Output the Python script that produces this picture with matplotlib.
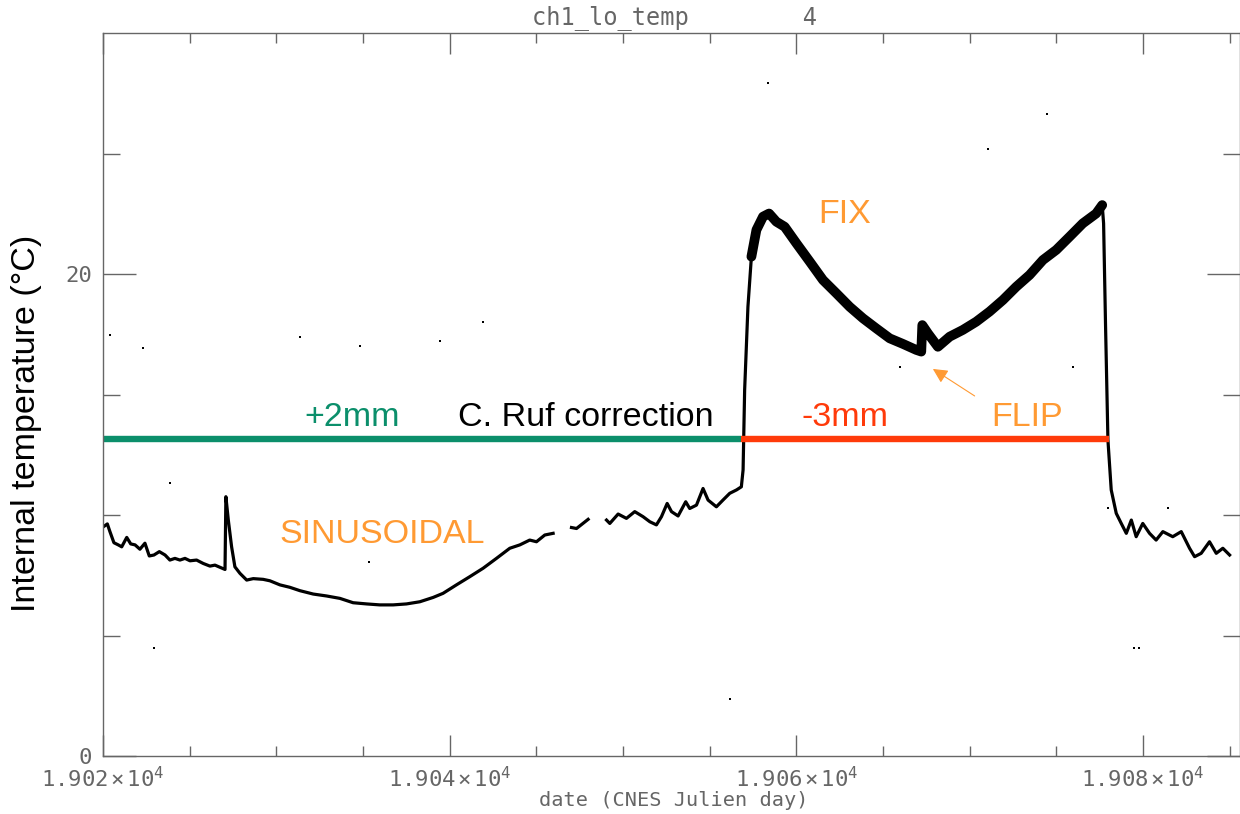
import numpy as np
import matplotlib
matplotlib.use("Agg")
import matplotlib.pyplot as plt
from matplotlib.ticker import FuncFormatter, FixedLocator

plt.rcParams['mathtext.fontset'] = 'custom'
plt.rcParams['mathtext.rm'] = 'DejaVu Sans Mono'
plt.rcParams['mathtext.it'] = 'DejaVu Sans Mono'

# ch1_lo_temp, CNES Julian day vs internal temperature (deg C); NaN = data gap
days = [19020.02, 19020.25, 19020.40, 19020.63, 19020.88, 19021.08, 19021.37, 19021.60,
        19021.85, 19022.13, 19022.42, 19022.67, 19022.94, 19023.25, 19023.58, 19023.86,
        19024.15, 19024.44, 19024.73, 19025.02, 19025.40, 19025.78, 19026.17, 19026.46,
        19026.75, 19027.04, 19027.09, 19027.23, 19027.42, 19027.61, 19027.90, 19028.29,
        19028.67, 19029.24, 19029.63, 19030.21, 19030.78, 19031.36, 19032.13, 19032.90,
        19033.67, 19034.43, 19035.21, 19035.97, 19036.74, 19037.51, 19038.28, 19039.05,
        19039.62, 19040.39, 19041.16, 19041.93, 19042.70, 19043.47, 19044.05, 19044.62,
        19045.01, 19045.49, 19045.97, 19046.50, 19047.03, 19047.32, 19047.99, 19048.50,
        19049.05, 19049.24, 19049.72, 19050.20, 19050.68, 19051.16, 19051.55, 19051.93,
        19052.22, 19052.55, 19052.80, 19053.18, 19053.62, 19053.85, 19054.24, 19054.62,
        19054.91, 19055.39, 19055.77, 19056.16, 19056.55, 19056.83, 19056.93, 19057.02,
        19057.21, 19057.41]
temps = [9.51, 9.63, 9.31, 8.85, 8.76, 8.68, 9.07, 8.80,
         8.76, 8.58, 8.83, 8.30, 8.34, 8.48, 8.34, 8.13,
         8.20, 8.13, 8.20, 8.10, 8.13, 7.99, 7.88, 7.92,
         7.83, 7.74, 10.76, 9.79, 8.68, 7.85, 7.58, 7.30,
         7.36, 7.33, 7.27, 7.10, 7.00, 6.86, 6.72, 6.64,
         6.54, 6.36, 6.31, 6.27, 6.27, 6.31, 6.40, 6.58,
         6.75, 7.10, 7.44, 7.79, 8.20, 8.62, 8.76, 8.96,
         8.89, 9.17, 9.24, np.nan, 9.48, 9.44, 9.82, np.nan,
         9.79, 9.65, 10.04, 9.86, 10.14, 9.93, 9.72, 9.59,
         9.93, 10.48, 10.14, 9.96, 10.55, 10.27, 10.41, 11.10,
         10.62, 10.34, 10.62, 10.90, 11.04, 11.17, 11.87, 15.19,
         18.64, 20.72]

# the FIX period, drawn as a thick band (daily oscillation)
fix_days = [19057.41, 19057.70, 19058.08, 19058.43, 19058.85, 19059.33, 19060.01, 19060.78,
            19061.54, 19062.31, 19063.08, 19063.85, 19064.62, 19065.39, 19066.15, 19066.92,
            19067.21, 19067.27, 19067.60, 19068.17, 19068.85, 19069.61, 19070.38, 19071.15,
            19071.92, 19072.69, 19073.46, 19074.23, 19075.00, 19075.77, 19076.53, 19077.30,
            19077.65]
fix_temps = [20.72, 21.83, 22.38, 22.51, 22.17, 21.96, 21.27, 20.51,
             19.75, 19.20, 18.64, 18.16, 17.74, 17.33, 17.10, 16.85,
             16.78, 17.88, 17.53, 16.98, 17.40, 17.68, 18.02, 18.44,
             18.92, 19.47, 19.96, 20.58, 21.00, 21.55, 22.10, 22.51,
             22.86]

end_days = [19077.65, 19077.73, 19077.84, 19077.98, 19078.17, 19078.46, 19078.75, 19079.04,
            19079.33, 19079.61, 19079.99, 19080.38, 19080.76, 19081.15, 19081.72, 19082.21,
            19082.69, 19082.98, 19083.36, 19083.84, 19084.23, 19084.61, 19085.00]
end_temps = [22.86, 22.10, 17.95, 13.11, 11.04, 10.07, 9.65, 9.24,
             9.79, 9.10, 9.65, 9.24, 8.96, 9.31, 9.10, 9.31,
             8.62, 8.27, 8.41, 8.89, 8.41, 8.62, 8.34]

# isolated outlier samples
out_days = [19058.35, 19074.44, 19071.04, 19020.40, 19022.30, 19031.36, 19034.82, 19041.91,
            19039.43, 19023.86, 19022.94, 19035.36, 19056.20, 19065.96, 19075.96, 19078.00,
            19081.46, 19079.50, 19079.80]
out_temps = [27.93, 26.64, 25.19, 17.47, 16.93, 17.40, 17.01, 17.99,
             17.23, 11.32, 4.47, 8.04, 2.35, 16.15, 16.14, 10.30,
             10.29, 4.47, 4.47]

# correction periods
plus_start, plus_end = 19020.0, 19056.83
minus_start, minus_end = 19056.83, 19078.03
corr_level = 13.15

green = '#0b8f6b'
red = '#ff3a0a'
orange = '#ff9a33'
gray = '#666666'

fig = plt.figure(figsize=(12.4, 8.14), dpi=100)
ax = fig.add_axes([103 / 1240, 58 / 814, 1137 / 1240, 723 / 814])
ax.set_facecolor('none')

ax.plot(days, temps, color='black', lw=2.3)
ax.plot(fix_days, fix_temps, color='black', lw=7, solid_capstyle='round',
        solid_joinstyle='round')
ax.plot(end_days, end_temps, color='black', lw=2.3)
ax.plot(out_days, out_temps, 's', color='black', ms=2, mew=0)

ax.plot([plus_start, plus_end], [corr_level, corr_level], color=green, lw=4.6,
        solid_capstyle='butt')
ax.plot([minus_start, minus_end], [corr_level, corr_level], color=red, lw=4.6,
        solid_capstyle='butt')

fs = 24.5
ax.text(19034.36, 13.69, '+2mm', color=green, fontsize=fs, ha='center', va='baseline',
        family='Liberation Sans')
ax.text(19040.49, 13.69, 'C. Ruf correction', color='black', fontsize=fs, ha='left',
        va='baseline', family='Liberation Sans')
ax.text(19060.29, 13.69, '-3mm', color=red, fontsize=fs, ha='left', va='baseline',
        family='Liberation Sans')
ax.text(19071.25, 13.69, 'FLIP', color=orange, fontsize=fs, ha='left', va='baseline',
        family='Liberation Sans')
ax.text(19061.25, 22.10, 'FIX', color=orange, fontsize=fs, ha='left', va='baseline',
        family='Liberation Sans')
ax.text(19030.21, 8.82, 'SINUSOIDAL', color=orange, fontsize=fs, ha='left', va='baseline',
        family='Liberation Sans')
ax.annotate('', xy=(19067.88, 16.06), xytext=(19070.29, 14.94),
            arrowprops=dict(arrowstyle='-|>', color=orange, lw=0.8,
                            mutation_scale=22, shrinkA=0, shrinkB=0))

ax.set_xlim(19020, 19085.6)
ax.set_ylim(0, 30)

ax.xaxis.set_major_locator(FixedLocator([19020, 19040, 19060, 19080]))
ax.xaxis.set_minor_locator(FixedLocator(np.arange(19025, 19086, 5)))
ax.yaxis.set_major_locator(FixedLocator([0, 20]))
ax.yaxis.set_minor_locator(FixedLocator([5, 10, 15, 25]))
ax.xaxis.set_major_formatter(FuncFormatter(lambda v, p: r'$%.3f\times10^{4}$' % (v / 1e4)))
ax.yaxis.set_major_formatter(FuncFormatter(lambda v, p: '%d' % v))

ax.tick_params(axis='both', which='both', direction='in', top=True, right=True,
               color=gray, width=1, labelcolor=gray)
ax.tick_params(axis='x', which='major', length=15, pad=7, labelsize=16)
ax.tick_params(axis='x', which='minor', length=7.5)
ax.tick_params(axis='y', which='major', length=24, pad=8, labelsize=16)
ax.tick_params(axis='y', which='minor', length=12)
for lab in ax.get_yticklabels():
    lab.set_family('DejaVu Sans Mono')
for s in ax.spines.values():
    s.set_color(gray)
    s.set_linewidth(1)

ax.set_xlabel('date (CNES Julien day)', color=gray, fontsize=14.6, family='DejaVu Sans Mono')
ax.xaxis.set_label_coords(0.502, -0.061)
ax.xaxis.label.set_va('center')
ax.set_ylabel('Internal temperature (\u00b0C)', color='black', fontsize=24.5,
              family='Liberation Sans')
ax.yaxis.set_label_coords(-0.067, 0.46)
ax.yaxis.label.set_va('center')

fig.text(674 / 1240, 1 - 24 / 814, 'ch1_lo_temp        4', color=gray, fontsize=17,
         ha='center', va='baseline', family='DejaVu Sans Mono', zorder=10)

fig.savefig('out.png', dpi=100)
